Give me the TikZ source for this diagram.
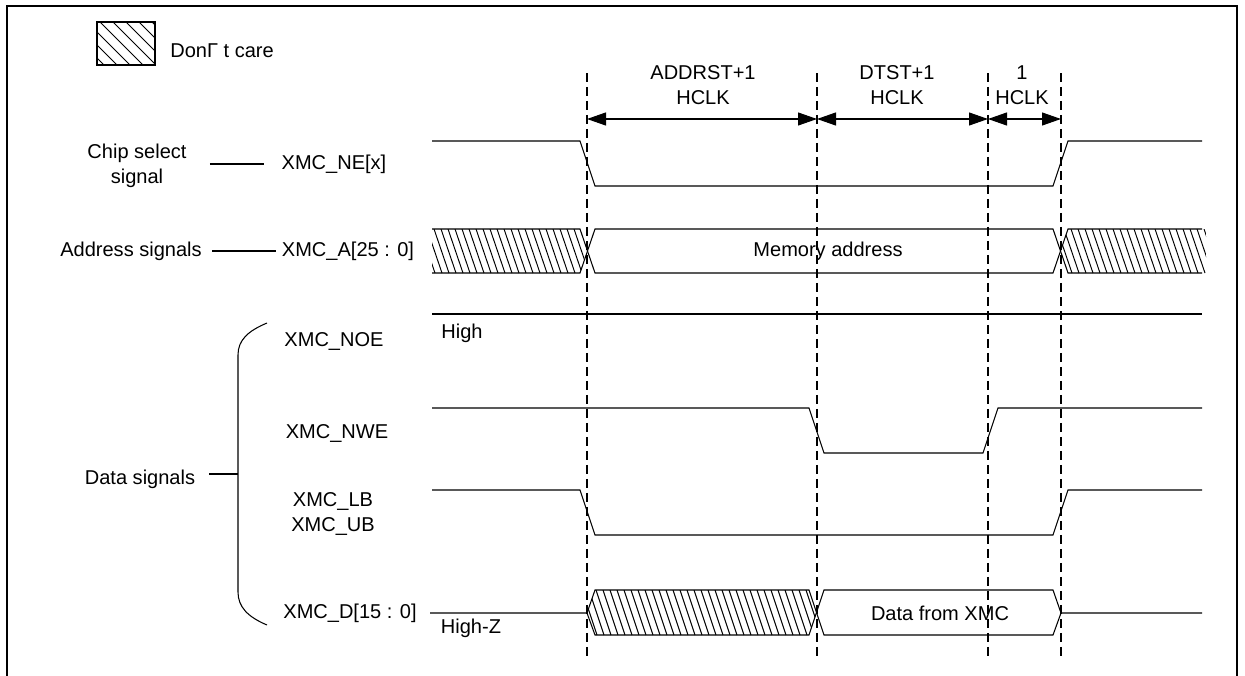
\documentclass[tikz,border=0pt]{standalone}
\usepackage{fontspec}
\setmainfont{Liberation Sans}
\usetikzlibrary{arrows.meta}

\begin{document}
\begin{tikzpicture}[x=0.02cm,y=-0.02cm,
        wave/.style={line width=0.6pt},
        guide/.style={line width=0.6pt,dash pattern=on 0.18cm off 0.1cm},
        dim/.style={line width=0.6pt,>={Triangle[length=0.38cm,width=0.26cm]},<->},
        hatch/.style={line width=0.55pt},
        lbl/.style={inner sep=0pt,font=\fontsize{11.4}{14.2}\selectfont,align=center}]
        \useasboundingbox (0,0) rectangle (1245,676);
        \draw[line width=1.2pt] (7,690) -- (7,6) -- (1237,6) -- (1237,690);

        % legend
        \begin{scope}
            \clip (97,22) rectangle (155,65);
            \foreach \x in {48,61,...,165} \draw[hatch] (\x,22) -- ++(43,43);
        \end{scope}
        \draw[wave] (97,22) rectangle (155,65);
        \node[lbl,anchor=west] (dc) at (170,51) {DonΓ t care};

        % time marks
        \foreach \x/\n in {587/ta,817/tb,988/tc,1061/td} {
            \coordinate (\n) at (\x,119);
            \draw[guide] (\x,73) -- (\x,657);
        }
        \draw[dim] (ta) -- (tb);
        \draw[dim] (tb) -- (tc);
        \draw[dim] (tc) -- (td);
        \node[lbl] (addrst) at (703,85) {ADDRST+1\\HCLK};
        \node[lbl] (dtst) at (897,85) {DTST+1\\HCLK};
        \node[lbl] (one) at (1022,85) {1\\HCLK};

        % signal names
        \node[lbl] (chip) at (137,166) {Chip select\\signal};
        \node[lbl] (ne) at (334,164) {XMC\_NE[x]};
        \node[lbl] (addr) at (131,251) {Address signals};
        \node[lbl] (xa) at (348,251) {XMC\_A[25 : 0]};
        \node[lbl] (noe) at (334,341) {XMC\_NOE};
        \node[lbl] (nwe) at (337,433) {XMC\_NWE};
        \node[lbl] (lbub) at (333,514) {XMC\_LB\\XMC\_UB};
        \node[lbl] (xd) at (350,613) {XMC\_D[15 : 0]};
        \node[lbl] (data) at (140,479) {Data signals};
        \coordinate (brace) at (238,474);
        \draw[wave,shorten <=0.46cm,shorten >=0.34cm] (chip.east |- ne) -- (ne.west);
        \draw[wave,shorten <=0.2cm,shorten >=0.12cm] (addr.east |- xa) -- (xa.west);
        \draw[wave,shorten <=0.28cm] (data.east |- brace) -- (brace);
        \draw[wave] (267,323) .. controls (248,331) and (238,340) .. (238,355) -- (238,592)
            .. controls (238,607) and (248,617) .. (267,625);

        % XMC_NE[x]
        \draw[wave] (432,141) -- (580,141) -- (595,186) -- (1053,186) -- (1068,141) -- (1202,141);

        % XMC_A[25:0]
        \begin{scope}
            \clip (432,229) -- (580,229) -- (587,251) -- (580,273) -- (432,273) -- cycle;
            \foreach \x in {420,427,...,600} \draw[hatch] (\x,229) -- ++(15,44);
        \end{scope}
        \begin{scope}
            \clip (1061,251) -- (1068,229) -- (1206,229) -- (1206,273) -- (1068,273) -- cycle;
            \foreach \x in {1050,1057,...,1210} \draw[hatch] (\x,229) -- ++(15,44);
        \end{scope}
        \draw[wave] (432,229) -- (580,229) -- (595,273) -- (1053,273) -- (1068,229) -- (1202,229);
        \draw[wave] (432,273) -- (580,273) -- (595,229) -- (1053,229) -- (1068,273) -- (1202,273);
        \node[lbl] (mem) at (828,251) {Memory address};

        % XMC_NOE
        \draw[wave] (432,314) -- (1202,314);
        \node[lbl] (high) at (462,333) {High};

        % XMC_NWE
        \draw[wave] (432,408) -- (809,408) -- (824,453) -- (983,453) -- (998,408) -- (1202,408);

        % XMC_LB / XMC_UB
        \draw[wave] (432,490) -- (580,490) -- (595,535) -- (1053,535) -- (1068,490) -- (1202,490);

        % XMC_D[15:0]
        \begin{scope}
            \clip (587,613) -- (595,590) -- (809,590) -- (816.5,612.5) -- (809,635) -- (595,635) -- cycle;
            \foreach \x in {575,582,...,825} \draw[hatch] (\x,590) -- ++(15,45);
        \end{scope}
        \draw[wave] (430,613) -- (587,613) -- (595,590) -- (809,590) -- (824,635) -- (1053,635) -- (1061,613) -- (1202,613);
        \draw[wave] (587,613) -- (595,635) -- (809,635) -- (824,590) -- (1053,590) -- (1061,613);
        \node[lbl] (dfx) at (940,613) {Data from XMC};
        \node[lbl] (highz) at (471,628) {High-Z};
\end{tikzpicture}
\end{document}
